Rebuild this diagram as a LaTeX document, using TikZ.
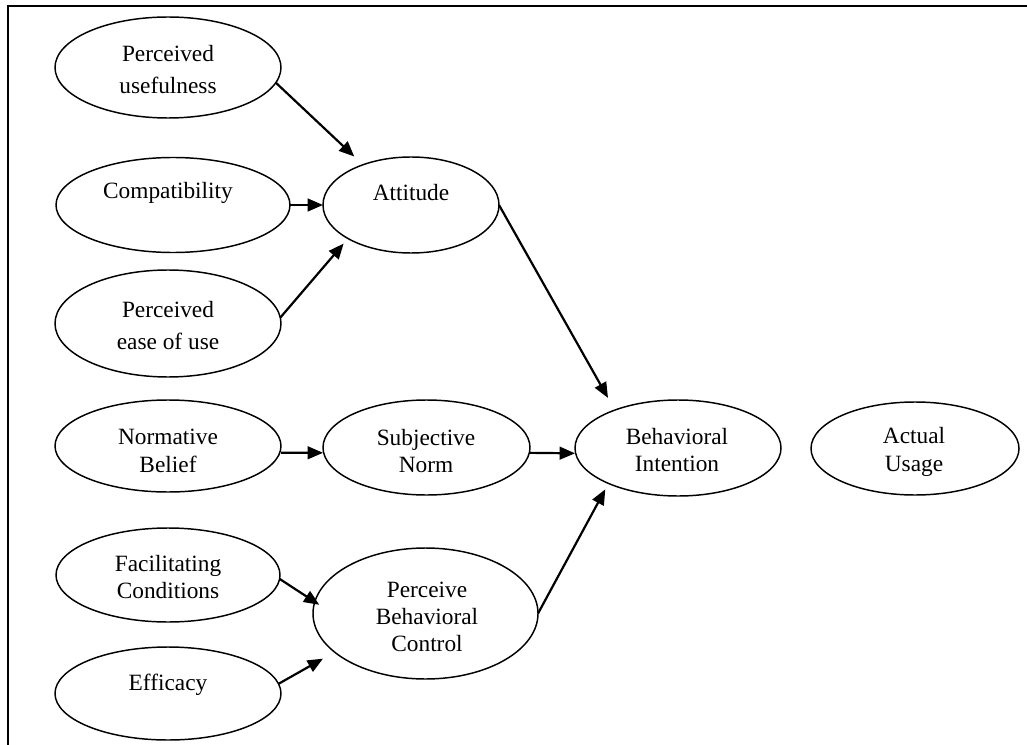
\documentclass[tikz,border=0pt]{standalone}
\usepackage{fontspec}
\setmainfont{Liberation Serif}
\usetikzlibrary{shapes.geometric,arrows.meta}

\begin{document}
\begin{tikzpicture}[x=0.75pt,y=-0.75pt,
  oval/.style={draw, ellipse, line width=1.1pt, inner sep=0pt, outer sep=0pt},
  lbl/.style={font=\fontsize{17.5}{20.5}\selectfont, align=center, inner sep=0pt},
  lblwide/.style={font=\fontsize{17.5}{24}\selectfont, align=center, inner sep=0pt},
  arr/.style={line width=1.65pt, -{Triangle[length=11.5pt,width=9.5pt]}}]

% page extent
\useasboundingbox (0,0) rectangle (1027,745);

% frame (left and top edges)
\draw[line width=1pt] (8,745) -- (8,6) -- (1027,6);

% left column of antecedents
\node[oval, minimum width=169.5pt, minimum height=75.75pt] (pu) at (168,67.5) {};
\node[oval, minimum width=175.5pt, minimum height=71.25pt] (compat) at (173,205) {};
\node[oval, minimum width=169.5pt, minimum height=80.25pt] (peou) at (168,323.5) {};
\node[oval, minimum width=169.5pt, minimum height=69pt] (nb) at (168,446) {};
\node[oval, minimum width=168pt, minimum height=70.5pt] (fc) at (168,575) {};
\node[oval, minimum width=169.5pt, minimum height=69.75pt] (eff) at (168,693.5) {};

% middle column
\node[oval, minimum width=132pt, minimum height=72pt] (att) at (411,205) {};
\node[oval, minimum width=155.25pt, minimum height=71.25pt] (sn) at (426.5,447.5) {};
\node[oval, minimum width=168.75pt, minimum height=98.25pt] (pbc) at (425.5,613.5) {};

% outcomes
\node[oval, minimum width=154.5pt, minimum height=72pt] (bi) at (678,448) {};
\node[oval, minimum width=156pt, minimum height=69.75pt] (au) at (915,448.5) {};

% labels
\node[lblwide] (pu-t) at (168,70) {Perceived\\usefulness};
\node[lbl] (compat-t) at (168,193) {Compatibility};
\node[lblwide] (peou-t) at (168,326) {Perceived\\ease of use};
\node[lbl] (nb-t) at (168,451) {Normative\\Belief};
\node[lbl] (fc-t) at (168,577) {Facilitating\\Conditions};
\node[lbl] (eff-t) at (168,685) {Efficacy};
\node[lbl] (att-t) at (411,193) {Attitude};
\node[lbl] (sn-t) at (426,451) {Subjective\\Norm};
\node[lbl] (pbc-t) at (427,617) {Perceive\\Behavioral\\Control};
\node[lbl] (bi-t) at (677,450) {Behavioral\\Intention};
\node[lbl] (au-t) at (914,452) {Actual\\Usage};

% paths
\draw[arr, shorten >=9pt] (pu.-8) -- (att.140);
\draw[arr] (compat.east) -- (att.west);
\draw[arr, shorten >=5pt] (peou.3) -- (att.208);
\draw[arr, shorten >=10.5pt] (att.east) -- (bi.149);
\draw[arr] ([yshift=-5pt]nb.east) -- ([yshift=-4pt]sn.west);
\draw[arr] ([yshift=-4pt]sn.east) -- ([yshift=-4pt]bi.west);
\draw[arr, shorten >=-4pt] (fc.-2) -- (pbc.174);
\draw[arr, shorten >=10pt] (eff.5) -- (pbc.203);
\draw[arr, shorten >=5pt] (pbc.east) -- (bi.207);
\end{tikzpicture}
\end{document}
